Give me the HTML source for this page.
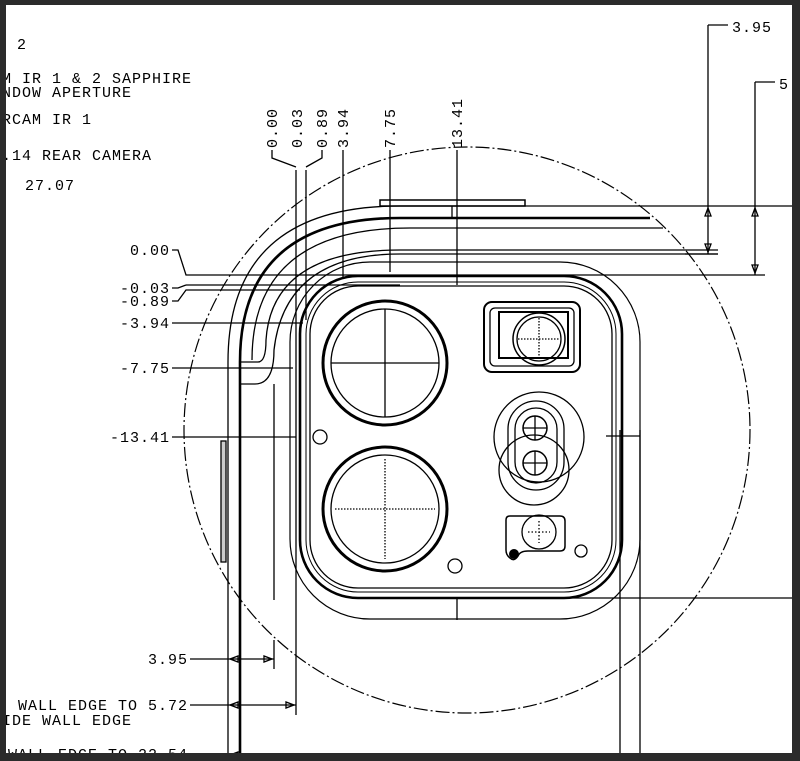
<!DOCTYPE html>
<html><head><meta charset="utf-8"><style>
html,body{margin:0;padding:0;background:#fff}
svg{display:block}
text{font-family:"Liberation Mono",monospace;font-size:15px;fill:#000;letter-spacing:1px}
</style></head><body>
<svg width="800" height="761" viewBox="0 0 800 761" xmlns="http://www.w3.org/2000/svg">
<rect width="800" height="761" fill="#fff"/>
<g fill="none" stroke="#000" stroke-width="1.3">
<circle cx="467" cy="430" r="283" stroke-dasharray="14 3 2 3" stroke-width="1.2"/>
<path d="M228 761 V362 Q228 206 400 206 H792"/>
<path d="M240 761 V362 Q240 218 400 218 H650" stroke-width="2.6"/>
<path d="M252 360 Q252 228 410 228 H663"/>
<path d="M240 362 H258 Q266 362 266 340 Q272 250 400 250 H718"/>
<path d="M240 384 H255 Q274 384 274 350 Q285 254 400 254 H718"/>
<path d="M274 384 V600"/>
<path d="M400 275 H765"/>
<path d="M186 285 H400"/>
<rect x="380" y="200" width="145" height="6" stroke-width="1.5"/>
<path d="M452 206 V218"/>
<rect x="290" y="262" width="350" height="357" rx="80" stroke-width="1.2"/>
<rect x="300" y="276" width="322" height="322" rx="58" stroke-width="2.6"/>
<rect x="306" y="282" width="310" height="310" rx="52" stroke-width="1"/>
<rect x="310" y="286" width="302" height="302" rx="48" stroke-width="1.3"/>
<circle cx="385" cy="363" r="62" stroke-width="3"/>
<circle cx="385" cy="363" r="54"/>
<path d="M331 363 H439 M385 309 V417"/>
<circle cx="385" cy="509" r="62" stroke-width="3"/>
<circle cx="385" cy="509" r="54"/>
<path d="M335 509 H435 M385 459 V559" stroke-dasharray="1.5 1.5"/>
<rect x="484" y="302" width="96" height="70" rx="8" stroke-width="2"/>
<rect x="490" y="308" width="84" height="58" rx="5"/>
<path d="M499 312 H568 V358 H499 Z" stroke-width="2"/>
<circle cx="539" cy="339" r="26" stroke-width="1.5"/>
<circle cx="539" cy="339" r="22"/>
<path d="M518 339 H560 M539 318 V360" stroke-dasharray="1.5 1.5"/>
<circle cx="539" cy="437" r="45"/>
<circle cx="534" cy="470" r="35"/>
<rect x="508" y="401" width="56" height="89" rx="28"/>
<rect x="515" y="408" width="42" height="75" rx="21"/>
<circle cx="535" cy="428" r="12" stroke-width="1.5"/>
<circle cx="535" cy="463" r="12" stroke-width="1.5"/>
<path d="M523 428 H547 M535 416 V440 M523 463 H547 M535 451 V475"/>
<path d="M510 516 H560 Q565 516 565 521 V546 Q565 551 560 551 H528 Q520 551 518 556 Q514 562 510 558 Q506 555 506 550 V520 Q506 516 510 516 Z" stroke-width="1.5"/>
<circle cx="539" cy="532" r="17"/>
<path d="M528 532 H550 M539 521 V543" stroke-dasharray="1.5 2"/>
<circle cx="320" cy="437" r="7"/>
<circle cx="455" cy="566" r="7"/>
<circle cx="581" cy="551" r="6"/>
<path d="M457 150 V285 M457 598 V620 M620 430 V761 M640 430 V761 M541 598 H792"/>
<path d="M296 170 V715 M306 170 V320 M343 150 V278 M390 150 V272"/>
<path d="M272 150 V158 L296 167 M322 150 V158 L306 167"/>
<path d="M606 436 H640"/>
<path d="M172 250 H178 L186 275 H400"/>
<path d="M172 288 H178 L186 285"/>
<path d="M172 301 H178 L186 290 H300"/>
<path d="M172 323 H303 M172 368 H293 M172 437 H296"/>
<rect x="221" y="441" width="5" height="121" fill="#ccc"/>
<path d="M708 25 H728 M708 25 V254 M685 254 H718"/>
<path d="M755 82 H775 M755 82 V275"/>
<path d="M708 208 l-3 8 h6 z M708 252 l-3 -8 h6 z M755 208 l-3 8 h6 z M755 273 l-3 -8 h6 z"/>
<path d="M190 659 H274 M274 640 V669 M190 705 H296"/>
<path d="M230 659 l8 -3 v6 z M272 659 l-8 -3 v6 z M230 705 l8 -3 v6 z M294 705 l-8 -3 v6 z M230 755 l8 -3 v6 z"/>
<path d="M190 755 H620"/>
</g>
<circle cx="514" cy="554" r="5" fill="#000"/>
<text x="17" y="49">2</text>
<text x="2" y="83">M IR 1 &amp; 2 SAPPHIRE</text>
<text x="2" y="97">NDOW APERTURE</text>
<text x="2" y="124">RCAM IR 1</text>
<text x="2" y="160">.14 REAR CAMERA</text>
<text x="25" y="190">27.07</text>
<g transform="translate(277,148) rotate(-90)"><text>0.00</text></g>
<g transform="translate(302,148) rotate(-90)"><text>0.03</text></g>
<g transform="translate(327,148) rotate(-90)"><text>0.89</text></g>
<g transform="translate(348,148) rotate(-90)"><text>3.94</text></g>
<g transform="translate(395,148) rotate(-90)"><text>7.75</text></g>
<g transform="translate(462,148) rotate(-90)"><text>13.41</text></g>
<text x="170" y="255" text-anchor="end">0.00</text>
<text x="170" y="293" text-anchor="end">-0.03</text>
<text x="170" y="306" text-anchor="end">-0.89</text>
<text x="170" y="328" text-anchor="end">-3.94</text>
<text x="170" y="373" text-anchor="end">-7.75</text>
<text x="170" y="442" text-anchor="end">-13.41</text>
<text x="732" y="32">3.95</text>
<text x="779" y="89">5.</text>
<text x="188" y="664" text-anchor="end">3.95</text>
<text x="188" y="710" text-anchor="end">WALL EDGE TO 5.72</text>
<text x="2" y="725">IDE WALL EDGE</text>
<text x="188" y="759" text-anchor="end">WALL EDGE TO 22.54</text>
<path fill="#2b2b2b" fill-rule="evenodd" d="M0 0 H800 V761 H0 Z M6 5 V753 H792 V5 Z"/>
</svg>
</body></html>
